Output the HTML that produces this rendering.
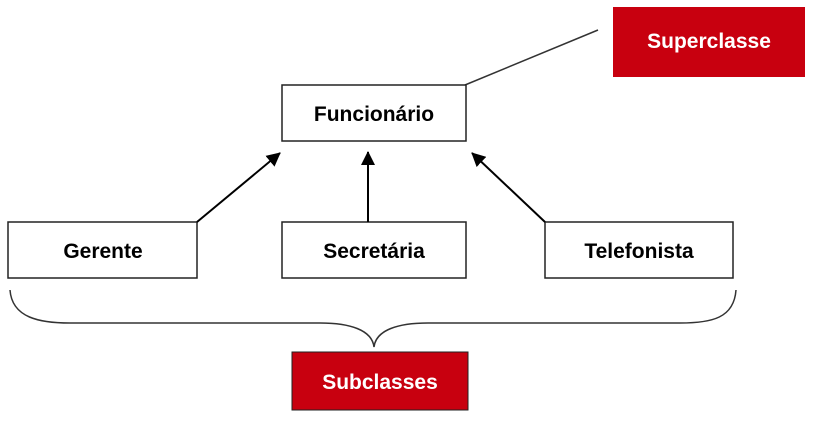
<!DOCTYPE html>
<html><head><meta charset="utf-8"><style>
body{margin:0;background:#fff;width:813px;height:418px;overflow:hidden}
svg text{font-family:"Liberation Sans",sans-serif;font-weight:bold;font-size:21px;text-anchor:middle}
</style></head><body>
<svg width="813" height="418" viewBox="0 0 813 418">
<defs><marker id="a" markerWidth="10" markerHeight="10" refX="9" refY="5" orient="auto" markerUnits="userSpaceOnUse" viewBox="0 0 10 10"><path d="M0,0L10,5L0,10z" fill="#000"/></marker>
<marker id="b" markerWidth="14" markerHeight="14" refX="13" refY="7" orient="auto" markerUnits="userSpaceOnUse" viewBox="0 0 14 14"><path d="M0,0L14,7L0,14z" fill="#000"/></marker></defs>
<rect x="613" y="7" width="192" height="70" fill="#c8000f"/>
<text x="709" y="48" fill="#fff">Superclasse</text>
<line x1="465" y1="85" x2="598" y2="30" stroke="#333" stroke-width="1.5"/>
<g fill="#fff" stroke="#222" stroke-width="1.5">
<rect x="282" y="85" width="184" height="56"/>
<rect x="8" y="222" width="189" height="56"/>
<rect x="282" y="222" width="184" height="56"/>
<rect x="545" y="222" width="188" height="56"/>
</g>
<text x="374" y="121">Funcionário</text>
<text x="103" y="258">Gerente</text>
<text x="374" y="258">Secretária</text>
<text x="639" y="258">Telefonista</text>
<g stroke="#000" stroke-width="2">
<line x1="197" y1="222" x2="280" y2="153" marker-end="url(#b)"/>
<line x1="368" y1="222" x2="368" y2="152" marker-end="url(#b)"/>
<line x1="545" y1="222" x2="472" y2="153" marker-end="url(#b)"/>
</g>
<path d="M10,290 C12,318 40,323 70,323 L320,323 C350,323 372,330 374,347 C376,330 398,323 428,323 L680,323 C712,323 734,318 736,290" fill="none" stroke="#333" stroke-width="1.5"/>
<rect x="292" y="352" width="176" height="58" fill="#c8000f" stroke="#222" stroke-width="1"/>
<text x="380" y="389" fill="#fff">Subclasses</text>
</svg>
</body></html>
